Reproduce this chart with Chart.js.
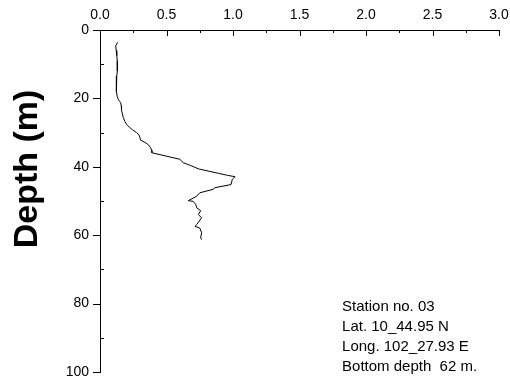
<!DOCTYPE html>
<html>
<head>
<meta charset="utf-8">
<script src="https://cdn.jsdelivr.net/npm/chart.js@4/dist/chart.umd.min.js"></script>
<style>
  html, body { margin: 0; padding: 0; background: #fff; }
  #wrap { width: 510px; height: 387px; }
</style>
</head>
<body>
<div id="wrap"><canvas id="c" width="510" height="387"></canvas></div>
<script>
// Vertical profile: value vs. depth (m)
const depth = [3.6, 4.6, 6.0, 7.5, 9.0, 10.5, 12.0, 13.5, 15.0, 16.5, 18.0, 19.5, 20.5, 21.2,
  22.2, 23.5, 24.5, 25.6, 26.8, 27.6, 28.4, 29.2, 30.0, 30.6, 31.4, 32.2, 32.9, 33.6, 34.4,
  35.2, 35.9, 37.8, 38.8, 39.6, 40.6, 41.3, 41.9, 42.5, 42.9, 43.7, 45.2, 46.1, 46.6, 47.6,
  48.6, 49.9, 50.1, 51.0, 52.0, 52.8, 54.0, 54.9, 56.9, 57.4, 57.9, 59.3, 60.8, 61.3];
const value = [0.133, 0.118, 0.122, 0.126, 0.130, 0.132, 0.129, 0.126, 0.123, 0.122, 0.125,
  0.130, 0.140, 0.155, 0.160, 0.162, 0.168, 0.175, 0.188, 0.200, 0.220, 0.245, 0.275, 0.292,
  0.300, 0.305, 0.340, 0.365, 0.380, 0.389, 0.390, 0.600, 0.626, 0.680, 0.740, 0.820, 0.890,
  0.960, 1.015, 0.995, 0.985, 0.865, 0.850, 0.750, 0.727, 0.664, 0.700, 0.720, 0.727, 0.757,
  0.740, 0.764, 0.727, 0.714, 0.750, 0.764, 0.757, 0.764];

const xTicks = [0.0, 0.5, 1.0, 1.5, 2.0, 2.5, 3.0];
const yTicks = [0, 20, 40, 60, 80, 100];
const stationInfo = ['Station no. 03', 'Lat. 10_44.95 N', 'Long. 102_27.93 E', 'Bottom depth  62 m.'];
const yTitle = 'Depth (m)';

const FONT = "'Liberation Sans', Arial, Helvetica, sans-serif";
Chart.defaults.font.family = FONT;
Chart.defaults.font.size = 14;
Chart.defaults.color = '#000';

// Tick marks: top axis ticks point into the plot, left axis major ticks point out, minor in
const axisTicks = {
  id: 'axisTicks',
  afterDraw(chart) {
    const { ctx, scales: { x, y }, chartArea: a } = chart;
    ctx.save();
    ctx.strokeStyle = '#000';
    ctx.lineWidth = 1;
    ctx.beginPath();
    xTicks.forEach((v, i) => {
      const px = Math.round(x.getPixelForValue(v)) + 0.5;
      ctx.moveTo(px, a.top); ctx.lineTo(px, a.top + 6);
      if (i < xTicks.length - 1) {
        const mx = Math.round(x.getPixelForValue((v + xTicks[i + 1]) / 2)) + 0.5;
        ctx.moveTo(mx, a.top); ctx.lineTo(mx, a.top + 3);
      }
    });
    yTicks.forEach((v, i) => {
      const py = Math.round(y.getPixelForValue(v)) + 0.5;
      ctx.moveTo(a.left - 7, py); ctx.lineTo(a.left, py);
      if (i < yTicks.length - 1) {
        const my = Math.round(y.getPixelForValue((v + yTicks[i + 1]) / 2)) + 0.5;
        ctx.moveTo(a.left, my); ctx.lineTo(a.left + 4, my);
      }
    });
    ctx.stroke();

    // axis title
    ctx.fillStyle = '#000';
    ctx.font = 'bold 34px ' + FONT;
    ctx.textAlign = 'center';
    ctx.textBaseline = 'middle';
    ctx.translate(28, 169);
    ctx.rotate(-Math.PI / 2);
    ctx.fillText(yTitle, 0, 0);
    ctx.restore();

    // station annotation
    ctx.save();
    ctx.fillStyle = '#000';
    ctx.font = '15px ' + FONT;
    ctx.textAlign = 'left';
    ctx.textBaseline = 'middle';
    const tx = x.getPixelForValue(1.82);
    const ty = y.getPixelForValue(81);
    stationInfo.forEach((s, i) => ctx.fillText(s, tx, ty + i * 20));
    ctx.restore();
  }
};

new Chart(document.getElementById('c'), {
  type: 'scatter',
  data: {
    datasets: [{
      data: depth.map((d, i) => ({ x: value[i], y: d })),
      showLine: true,
      borderColor: '#000',
      borderWidth: 1,
      pointRadius: 0,
      tension: 0,
      fill: false
    }]
  },
  options: {
    responsive: false,
    devicePixelRatio: 1,
    animation: false,
    layout: { padding: { left: 0, right: 11, top: 0, bottom: 15 } },
    plugins: { legend: { display: false }, tooltip: { enabled: false } },
    scales: {
      x: {
        type: 'linear',
        position: 'top',
        min: 0, max: 3,
        afterFit: s => { s.height = 30; s.paddingLeft = 0; s.paddingRight = 0; },
        afterBuildTicks: s => { s.ticks = xTicks.map(v => ({ value: v })); },
        grid: { display: false, drawTicks: false },
        border: { display: true, color: '#000', width: 1 },
        ticks: { padding: 6, callback: v => Number(v).toFixed(1), maxRotation: 0 }
      },
      y: {
        type: 'linear',
        reverse: true,
        min: 0, max: 100,
        afterFit: s => { s.width = 100; s.paddingTop = 0; s.paddingBottom = 0; },
        afterBuildTicks: s => { s.ticks = yTicks.map(v => ({ value: v })); },
        grid: { display: false, drawTicks: false },
        border: { display: true, color: '#000', width: 1 },
        ticks: { padding: 11, callback: v => String(v) }
      }
    }
  },
  plugins: [axisTicks]
});
</script>
</body>
</html>
